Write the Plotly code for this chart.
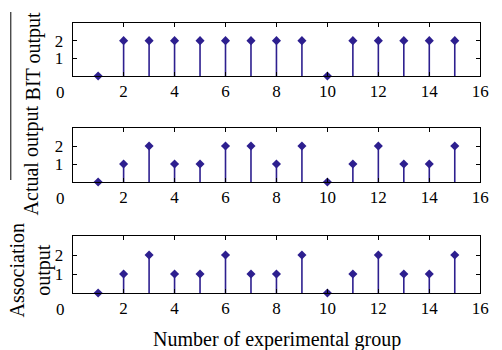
import plotly.graph_objects as go

groups = list(range(1, 16))
bit_output = [0, 2, 2, 2, 2, 2, 2, 2, 2, 0, 2, 2, 2, 2, 2]
actual_output = [0, 1, 2, 1, 1, 2, 2, 1, 2, 0, 1, 2, 1, 1, 2]
association_output = [0, 1, 2, 1, 1, 2, 1, 1, 2, 0, 1, 2, 1, 1, 2]
x_ticks = [2, 4, 6, 8, 10, 12, 14, 16]
y_ticks = [1, 2]
panel_titles = ["BIT output", "Actual output", "Association<br>output"]
x_title = "Number of experimental group"

W, H = 502, 350
FONT = "Liberation Serif"
COLOR = "#2d1f8f"
TICK = 17

# panel pixel boxes (top, bottom)
boxes = [(23, 76), (128, 182), (236, 293)]
label_centers = [56, 160, 270]
label_x = [34, 33, 31]
xl, xr = 74, 489

fig = go.Figure()
series = [bit_output, actual_output, association_output]
layout = dict(width=W, height=H, margin=dict(l=0, r=0, t=0, b=0),
              plot_bgcolor="white", paper_bgcolor="white", showlegend=False,
              font=dict(family=FONT, size=TICK, color="black"))
annotations = []
for i, vals in enumerate(series):
    n = "" if i == 0 else str(i + 1)
    fig.add_trace(go.Scatter(
        x=groups, y=vals, mode="markers", xaxis="x" + n, yaxis="y" + n,
        marker=dict(symbol="diamond", size=7, color=COLOR),
        error_y=dict(type="data", symmetric=False, array=[0] * len(vals),
                     arrayminus=vals, width=0, thickness=1.6, color=COLOR),
        cliponaxis=False,
    ))
    top, bot = boxes[i]
    layout["xaxis" + n] = dict(
        domain=[xl / W, xr / W], range=[0, 16], anchor="y" + n,
        tickvals=x_ticks, ticks="inside", ticklen=4, showline=True, mirror="ticks",
        linecolor="black", linewidth=1, tickcolor="black", showgrid=False,
        zeroline=False, tickfont=dict(size=TICK, family=FONT),
    )
    layout["yaxis" + n] = dict(
        domain=[1 - bot / H, 1 - top / H], range=[0, 3], anchor="x" + n,
        tickvals=y_ticks, ticks="inside", ticklen=4, showline=True, mirror="ticks",
        linecolor="black", linewidth=1, tickcolor="black", showgrid=False,
        zeroline=False, tickfont=dict(size=TICK, family=FONT), ticklabelstandoff=5,
    )
    annotations.append(dict(
        text=panel_titles[i], xref="paper", yref="paper",
        x=label_x[i] / W, y=1 - label_centers[i] / H, showarrow=False,
        textangle=-90, font=dict(size=20, family=FONT), xanchor="center", yanchor="middle"))
    annotations.append(dict(
        text="0", xref="paper", yref="paper", x=62 / W, y=1 - (bot + 16) / H,
        showarrow=False, font=dict(size=TICK, family=FONT), xanchor="center", yanchor="middle"))

annotations.append(dict(
    text=x_title, xref="paper", yref="paper", x=282 / W, y=1 - 339 / H,
    showarrow=False, font=dict(size=20, family=FONT), xanchor="center", yanchor="middle"))
layout["annotations"] = annotations
layout["shapes"] = [dict(type="line", xref="paper", yref="paper",
                         x0=11 / W, x1=11 / W, y0=1 - 12 / H, y1=1 - 180 / H,
                         line=dict(color="black", width=1))]
fig.update_layout(**layout)
fig.write_html("out.html", config={"displayModeBar": False},
               post_script="document.body.style.margin='0';document.body.style.overflow='hidden';")
